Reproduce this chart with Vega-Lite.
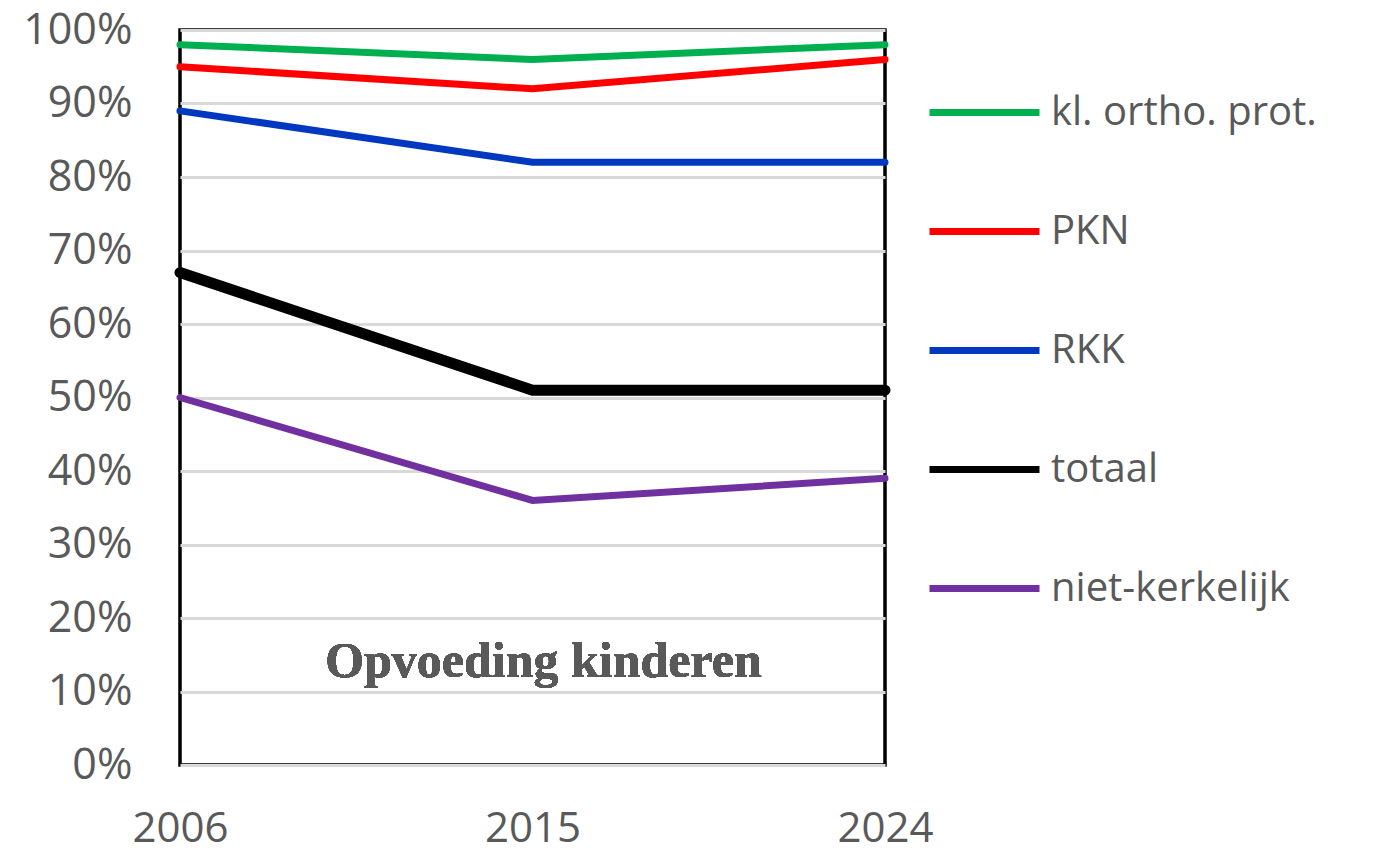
{
  "$schema": "https://vega.github.io/schema/vega-lite/v6.json",
  "width": 705,
  "height": 735,
  "autosize": {"type": "none"},
  "padding": {"left": 180, "top": 30, "right": 498, "bottom": 87},
  "background": "white",
  "config": {
    "view": {"stroke": "black", "strokeWidth": 3.5},
    "font": "Open Sans"
  },
  "data": {
    "values": [
      {"year": 2006, "group": "kl. ortho. prot.", "value": 0.98},
      {"year": 2015, "group": "kl. ortho. prot.", "value": 0.96},
      {"year": 2024, "group": "kl. ortho. prot.", "value": 0.98},
      {"year": 2006, "group": "PKN", "value": 0.95},
      {"year": 2015, "group": "PKN", "value": 0.92},
      {"year": 2024, "group": "PKN", "value": 0.96},
      {"year": 2006, "group": "RKK", "value": 0.89},
      {"year": 2015, "group": "RKK", "value": 0.82},
      {"year": 2024, "group": "RKK", "value": 0.82},
      {"year": 2006, "group": "totaal", "value": 0.67},
      {"year": 2015, "group": "totaal", "value": 0.51},
      {"year": 2024, "group": "totaal", "value": 0.51},
      {"year": 2006, "group": "niet-kerkelijk", "value": 0.50},
      {"year": 2015, "group": "niet-kerkelijk", "value": 0.36},
      {"year": 2024, "group": "niet-kerkelijk", "value": 0.39}
    ]
  },
  "layer": [
    {
      "mark": {"type": "line", "strokeCap": "round", "clip": false},
      "encoding": {
        "x": {
          "field": "year", "type": "quantitative",
          "scale": {"domain": [2006, 2024], "nice": false, "zero": false},
          "axis": {
            "values": [2006, 2015, 2024], "format": "d", "title": null,
            "grid": false, "ticks": false, "domain": false,
            "labelFontSize": 42, "labelColor": "#595959", "labelPadding": 43,
            "labelFont": "Open Sans", "labelFlush": false
          }
        },
        "y": {
          "field": "value", "type": "quantitative",
          "scale": {"domain": [0, 1], "nice": false},
          "axis": {
            "values": [0, 0.1, 0.2, 0.3, 0.4, 0.5, 0.6, 0.7, 0.8, 0.9, 1.0],
            "format": ".0%", "title": null,
            "grid": true, "gridColor": "#d9d9d9", "gridWidth": 3,
            "ticks": false, "domain": false,
            "labelFontSize": 43, "labelColor": "#595959", "labelPadding": 48,
            "labelFont": "Open Sans"
          }
        },
        "color": {
          "field": "group", "type": "nominal",
          "scale": {
            "domain": ["kl. ortho. prot.", "PKN", "RKK", "totaal", "niet-kerkelijk"],
            "range": ["#00b050", "#ff0000", "#0038c0", "#000000", "#7030a0"]
          },
          "legend": {
            "title": null, "orient": "none", "legendX": 746, "legendY": 24,
            "symbolType": "stroke", "symbolSize": 12100, "symbolStrokeWidth": 7,
            "labelFontSize": 40, "labelColor": "#595959", "labelFont": "Open Sans",
            "labelOffset": 8, "rowPadding": 40, "labelLimit": 400
          }
        },
        "strokeWidth": {
          "condition": {"test": "datum.group === 'totaal'", "value": 11},
          "value": 7
        }
      }
    },
    {
      "mark": {"type": "text", "font": "Liberation Serif", "fontWeight": "bold", "fontSize": 50, "color": "#595959", "baseline": "middle", "align": "center", "dx": 11},
      "encoding": {
        "x": {"datum": 2015, "type": "quantitative"},
        "y": {"datum": 0.14, "type": "quantitative"},
        "text": {"value": "Opvoeding kinderen"}
      }
    }
  ]
}
